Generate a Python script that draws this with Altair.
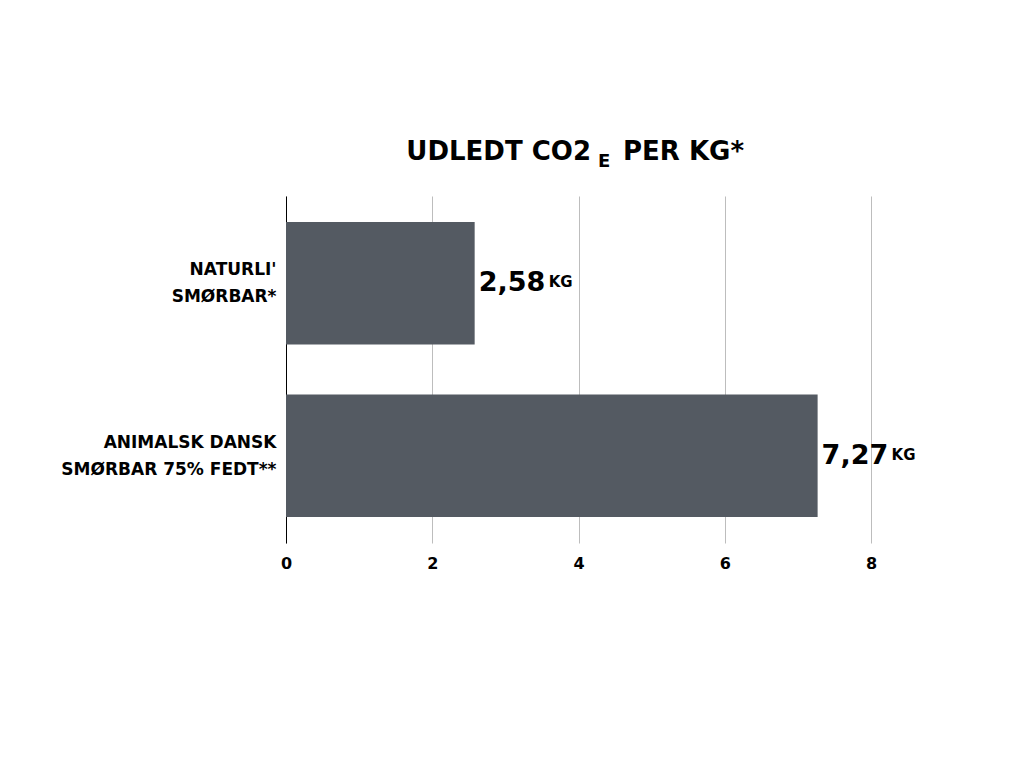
import altair as alt
import pandas as pd

categories = ["NATURLI'|SMØRBAR*", "ANIMALSK DANSK|SMØRBAR 75% FEDT**"]
values = [2.58, 7.27]
value_labels = ["2,58", "7,27"]
unit = "KG"
x_ticks = [0, 2, 4, 6, 8]

df = pd.DataFrame({"cat": categories, "val": values, "lab": value_labels, "unit": [unit, unit]})

FONT = "DejaVu Sans"
BAR = "#545a62"

y_enc = alt.Y("cat:N", sort=categories, title=None,
              scale=alt.Scale(paddingInner=0.29, paddingOuter=0.15),
              axis=alt.Axis(labelExpr="split(datum.label, '|')", labelFont=FONT,
                            labelFontWeight="bold", labelFontSize=17, labelColor="#000",
                            labelLineHeight=27, labelPadding=10, labelOffset=-13, ticks=False,
                            domainColor="#000", domainWidth=1, labelLimit=400))
x_enc = alt.X("val:Q", title=None, scale=alt.Scale(domain=[0, 8], nice=False),
              axis=alt.Axis(values=x_ticks, format="d", grid=True, gridColor="#bdbdbd",
                            domain=False, ticks=False, labelFont=FONT, labelFontWeight="bold",
                            labelFontSize=16, labelColor="#000", labelPadding=12,
                            labelFlush=False))

bars = alt.Chart(df).mark_bar(color=BAR).encode(x=x_enc, y=y_enc)

nums = alt.Chart(df).mark_text(align="left", baseline="middle", dx=4, dy=0, font=FONT,
                                fontWeight="bold", fontSize=27, color="#000").encode(
    x="val:Q", y=alt.Y("cat:N", sort=categories), text="lab:N")
units = alt.Chart(df).mark_text(align="left", baseline="middle", dx=74, dy=-1, font=FONT,
                                 fontWeight="bold", fontSize=15, color="#000").encode(
    x="val:Q", y=alt.Y("cat:N", sort=categories), text="unit:N")

title_df = pd.DataFrame({"t": ["x"]})
t1 = alt.Chart(title_df).mark_text(align="right", baseline="alphabetic", font=FONT,
                                    fontWeight="bold", fontSize=26, color="#000").encode(
    x=alt.value(305), y=alt.value(-36), text=alt.value("UDLEDT CO2"))
t2 = alt.Chart(title_df).mark_text(align="left", baseline="alphabetic", font=FONT,
                                    fontWeight="bold", fontSize=18, color="#000").encode(
    x=alt.value(312), y=alt.value(-29), text=alt.value("E"))
t3 = alt.Chart(title_df).mark_text(align="left", baseline="alphabetic", font=FONT,
                                    fontWeight="bold", fontSize=26, color="#000").encode(
    x=alt.value(337), y=alt.value(-36), text=alt.value("PER KG*"))

chart = alt.layer(bars, nums, units, t1, t2, t3).properties(
    width=585, height=347,
    autosize=alt.AutoSizeParams(type="none"),
    padding={"left": 278, "top": 188, "right": 140, "bottom": 200},
).configure_view(stroke=None)

chart.save("out.html", embed_options={"renderer": "svg", "actions": False})
